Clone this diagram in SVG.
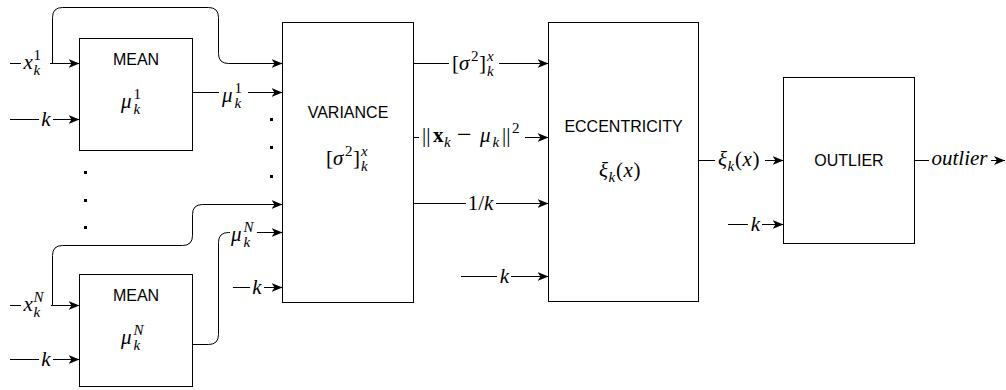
<svg xmlns="http://www.w3.org/2000/svg" width="1006" height="390" viewBox="0 0 1006 390">
<style>
.box{fill:#fff;stroke:#000;stroke-width:1}
.edge{fill:none;stroke:#000;stroke-width:1;marker-end:url(#arr)}
.bg{fill:#fff}
.dot{fill:#000}
.sans{font-family:"Liberation Sans",Arial,sans-serif;font-size:16px;fill:#000;text-anchor:middle}
.m{font-family:"Liberation Serif","DejaVu Serif",serif;font-size:21px;fill:#000}
.i{font-style:italic}
.s{font-size:15px}
.b{font-weight:bold}
.c{text-anchor:middle}
.op{font-size:26px}
</style>
<defs>
<marker id="arr" viewBox="0 0 11 9" refX="11" refY="4.5" markerWidth="11" markerHeight="9" markerUnits="userSpaceOnUse" orient="auto">
<path d="M0,0 L11,4.5 L0,9 L3,4.5 Z" fill="#000"/>
</marker>
</defs>
<rect width="1006" height="390" fill="#fff"/>

<g id="connectors">
<path class="edge" d="M10,63.5 H79.5"/>
<path class="edge" d="M52.5,63.5 V17.5 Q52.5,7.5 62.5,7.5 H208.5 Q218.5,7.5 218.5,17.5 V53.5 Q218.5,63.5 228.5,63.5 H282.5"/>
<path class="edge" d="M10,119.5 H79.5"/>
<path class="edge" d="M192.5,92.5 H282.5"/>
<path class="edge" d="M10,305.5 H79.5"/>
<path class="edge" d="M52.5,305.5 V255.5 Q52.5,245.5 62.5,245.5 H182.5 Q192.5,245.5 192.5,235.5 V214.5 Q192.5,204.5 202.5,204.5 H282.5"/>
<path class="edge" d="M10,359.5 H79.5"/>
<path class="edge" d="M192.5,344.5 H208.5 Q218.5,344.5 218.5,334.5 V242.5 Q218.5,232.5 228.5,232.5 H282.5"/>
<path class="edge" d="M233,287.5 H282.5"/>
<path class="edge" d="M413.5,63.5 H548.5"/>
<path class="edge" d="M413.5,137.5 H548.5"/>
<path class="edge" d="M413.5,203.5 H548.5"/>
<path class="edge" d="M461,276.5 H548.5"/>
<path class="edge" d="M698.5,160.5 H783.5"/>
<path class="edge" d="M728,224.5 H783.5"/>
<path class="edge" d="M914.5,160.5 H1005"/>
</g>

<g id="edge-labels">
<g id="lbl-x1">
<rect class="bg" x="21" y="50" width="29" height="28"/>
<text class="m i" x="23.5" y="69">x</text>
<text class="m s" x="33.5" y="60">1</text>
<text class="m i s" x="33.5" y="75">k</text>
</g>
<g id="lbl-k1">
<rect class="bg" x="39" y="109" width="14" height="20"/>
<text class="m i c" x="46" y="126">k</text>
</g>
<g id="lbl-mu1">
<rect class="bg" x="219" y="80" width="29" height="30"/>
<text class="m i" x="222" y="101.5">μ</text>
<text class="m s" x="234.5" y="92.5">1</text>
<text class="m i s" x="234.5" y="107.5">k</text>
</g>
<g id="lbl-xN">
<rect class="bg" x="21" y="291" width="30" height="28"/>
<text class="m i" x="23.5" y="311">x</text>
<text class="m i s" x="33.5" y="302">N</text>
<text class="m i s" x="33.5" y="317">k</text>
</g>
<g id="lbl-kN">
<rect class="bg" x="39" y="349" width="14" height="20"/>
<text class="m i c" x="46" y="366">k</text>
</g>
<g id="lbl-muN">
<rect class="bg" x="230" y="218" width="27" height="31"/>
<text class="m i" x="231" y="241">μ</text>
<text class="m i s" x="243.5" y="232">N</text>
<text class="m i s" x="243.5" y="247">k</text>
</g>
<g id="lbl-kvar">
<rect class="bg" x="250" y="277" width="14" height="20"/>
<text class="m i c" x="257" y="294">k</text>
</g>
<g id="lbl-sigma">
<rect class="bg" x="449" y="49" width="50" height="31"/>
<text class="m" x="452" y="70">[</text>
<text class="m i" x="459" y="70">σ</text>
<text class="m s" x="471" y="61">2</text>
<text class="m" x="479" y="70">]</text>
<text class="m i s" x="487" y="61">x</text>
<text class="m i s" x="487" y="76">k</text>
</g>
<g id="lbl-norm">
<rect class="bg" x="419" y="122" width="106" height="30"/>
<text class="m" x="422" y="142">||</text>
<text class="m b" x="433" y="142">x</text>
<text class="m i s" x="444" y="147">k</text>
<text class="m op" x="457" y="143">−</text>
<text class="m i" x="480" y="142">μ</text>
<text class="m i s" x="492.5" y="147">k</text>
<text class="m" x="502" y="142">||</text>
<text class="m s" x="512" y="133">2</text>
</g>
<g id="lbl-invk">
<rect class="bg" x="466" y="191" width="30" height="24"/>
<text class="m c" x="480.5" y="209.5">1/<tspan class="i">k</tspan></text>
</g>
<g id="lbl-kecc">
<rect class="bg" x="497" y="266" width="14" height="20"/>
<text class="m i c" x="504.5" y="283">k</text>
</g>
<g id="lbl-xi">
<rect class="bg" x="715" y="146" width="50" height="29"/>
<text class="m i" x="718" y="166">ξ</text>
<text class="m i s" x="727.5" y="171">k</text>
<text class="m" x="735" y="166">(</text>
<text class="m i" x="742.5" y="166">x</text>
<text class="m" x="752.5" y="166">)</text>
</g>
<g id="lbl-kout">
<rect class="bg" x="748" y="214" width="14" height="20"/>
<text class="m i c" x="755.5" y="231">k</text>
</g>
<g id="lbl-outlier">
<rect class="bg" x="929" y="148" width="62" height="22"/>
<text class="m i c" x="959.5" y="165">outlier</text>
</g>
</g>

<g id="dots">
<rect class="dot" x="270" y="118" width="3" height="3"/>
<rect class="dot" x="270" y="146" width="3" height="3"/>
<rect class="dot" x="270" y="175" width="3" height="3"/>
<rect class="dot" x="84" y="171" width="3" height="3"/>
<rect class="dot" x="84" y="199" width="3" height="3"/>
<rect class="dot" x="84" y="226" width="3" height="3"/>
</g>

<g id="mean1">
<rect class="box" x="79.5" y="38.5" width="113" height="112"/>
<text class="sans" x="136" y="65">MEAN</text>
<text class="m i" x="121" y="108">μ</text>
<text class="m s" x="133.5" y="99">1</text>
<text class="m i s" x="133.5" y="114">k</text>
</g>

<g id="mean2">
<rect class="box" x="79.5" y="274.5" width="113" height="112"/>
<text class="sans" x="136" y="301">MEAN</text>
<text class="m i" x="121" y="344">μ</text>
<text class="m i s" x="133.5" y="335">N</text>
<text class="m i s" x="133.5" y="350">k</text>
</g>

<g id="variance">
<rect class="box" x="282.5" y="22.5" width="131" height="280"/>
<text class="sans" x="348" y="118">VARIANCE</text>
<text class="m" x="326" y="165">[</text>
<text class="m i" x="333" y="165">σ</text>
<text class="m s" x="345" y="156">2</text>
<text class="m" x="353" y="165">]</text>
<text class="m i s" x="361" y="156">x</text>
<text class="m i s" x="361" y="171">k</text>
</g>

<g id="eccentricity">
<rect class="box" x="548.5" y="22.5" width="150" height="279"/>
<text class="sans" x="623.5" y="132">ECCENTRICITY</text>
<text class="m i" x="599" y="177">ξ</text>
<text class="m i s" x="608.5" y="182">k</text>
<text class="m" x="616" y="177">(</text>
<text class="m i" x="623.5" y="177">x</text>
<text class="m" x="633.5" y="177">)</text>
</g>

<g id="outlier">
<rect class="box" x="783.5" y="77.5" width="131" height="166"/>
<text class="sans" x="849" y="166">OUTLIER</text>
</g>
</svg>
